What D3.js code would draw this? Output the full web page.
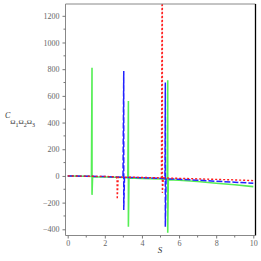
<!doctype html>
<html lang="en">
<head>
<meta charset="utf-8">
<title>C Omega plot</title>
<script src="https://cdnjs.cloudflare.com/ajax/libs/d3/7.8.5/d3.min.js"></script>
<style>
  body { margin: 0; background: #fff; }
  svg text { font-family: 'Liberation Serif', serif; }
</style>
</head>
<body>
<svg id="chart" width="261" height="261"></svg>
<script>
// tick values
const xTicks = [0, 2, 4, 6, 8, 10];
const yTicks = [-400, -200, 0, 200, 400, 600, 800, 1000, 1200];

// red dotted curve (S, C)
const redS = [0, 1, 2, 2.6, 2.66, 2.67, 2.72, 3.5, 4.5, 5.05, 5.1, 5.1, 5.15, 6, 7, 8, 9, 10];
const redC = [0, -2, -4, -7, -20, -175, -9, -10, -13, -15, 2000, -127, -15, -18, -22, -26, -30, -35];

// blue dashed curve
const blueS = [0, 1, 2, 2.98, 3.02, 3.02, 3.06, 4, 5, 5.24, 5.26, 5.26, 5.3, 6, 7, 8, 9, 10];
const blueC = [0, -2, -5, -10, 787, -255, -12, -13, -18, -20, 700, -380, -22, -25, -32, -40, -47, -55];

// green solid curve
const greenS = [0, 1, 1.28, 1.31, 1.31, 1.34, 2, 3, 3.24, 3.27, 3.27, 3.3, 4, 5, 5.36, 5.39, 5.39, 5.42, 6, 7, 8, 9, 10];
const greenC = [0, -3, -4, 811, -142, -6, -8, -12, -15, 562, -380, -15, -18, -23, -25, 717, -425, -28, -32, -42, -55, -66, -80];

const svg = d3.select("#chart");
const pLeft = 65.5, pRight = 255.5, pTop = 4, pBottom = 235.5;

const x = d3.scaleLinear().domain([0, 10]).range([67.7, 253.3]);
const y = d3.scaleLinear().domain([-400, 1200]).range([229.3, 15.8]);

svg.append("clipPath").attr("id", "clip")
  .append("rect").attr("x", pLeft).attr("y", pTop)
  .attr("width", pRight - pLeft).attr("height", pBottom - pTop);

const line = d3.line().x(d => x(d[0])).y(d => y(d[1]));
const series = [
  {s: greenS, c: greenC, color: "#55ee55", width: 1.6, dash: null},
  {s: blueS, c: blueC, color: "#2222ff", width: 1.5, dash: "6,2"},
  {s: redS, c: redC, color: "#ff1a1a", width: 1.4, dash: "2,2"}
];
svg.append("g").attr("clip-path", "url(#clip)")
  .selectAll("path").data(series).enter().append("path")
  .attr("d", d => line(d.s.map((v, i) => [v, d.c[i]])))
  .attr("fill", "none")
  .attr("stroke", d => d.color)
  .attr("stroke-width", d => d.width)
  .attr("stroke-dasharray", d => d.dash);

// frame: gray top, black right
svg.append("line").attr("x1", pLeft).attr("x2", pRight).attr("y1", pTop).attr("y2", pTop)
  .attr("stroke", "#888").attr("stroke-width", 1);
svg.append("line").attr("x1", pRight).attr("x2", pRight).attr("y1", pTop).attr("y2", pBottom)
  .attr("stroke", "#000").attr("stroke-width", 1.3);

// axes
const yAxis = svg.append("g").attr("transform", `translate(${pLeft},0)`)
  .call(d3.axisLeft(y).tickValues(yTicks).tickSize(3).tickPadding(3).tickFormat(d3.format("d")));
const xAxis = svg.append("g").attr("transform", `translate(0,${pBottom})`)
  .call(d3.axisBottom(x).tickValues(xTicks).tickSize(3).tickPadding(2).tickFormat(d3.format("d")));
[yAxis, xAxis].forEach(g => {
  g.select(".domain").attr("stroke", "#888");
  g.selectAll(".tick line").attr("stroke", "#777");
  g.selectAll(".tick text").attr("fill", "#666").style("font-size", "8px")
    .style("font-family", "'Liberation Serif', serif");
});
yAxis.select(".domain").attr("d", `M0,${pTop}V${pBottom}`);
xAxis.select(".domain").attr("d", `M${pLeft},0H${pRight}`);

// minor ticks
svg.append("g").selectAll("line").data(d3.range(-300, 1300, 200)).enter().append("line")
  .attr("x1", pLeft - 2).attr("x2", pLeft).attr("y1", d => y(d)).attr("y2", d => y(d))
  .attr("stroke", "#777");
svg.append("g").selectAll("line").data([1, 3, 5, 7, 9]).enter().append("line")
  .attr("x1", d => x(d)).attr("x2", d => x(d)).attr("y1", pBottom).attr("y2", pBottom + 2)
  .attr("stroke", "#777");

// axis labels
svg.append("text").attr("x", 160).attr("y", 253).attr("text-anchor", "middle")
  .attr("fill", "#333").style("font-size", "9px").style("font-style", "italic").text("S");
const yl = svg.append("text").attr("x", 5).attr("y", 118).attr("fill", "#333").style("font-size", "8px");
yl.append("tspan").style("font-style", "italic").text("C");
const subs = ["1", "2", "3"];
subs.forEach((n, i) => {
  yl.append("tspan").attr("dy", i === 0 ? 6 : -3).style("font-size", "7px").text("Ω");
  yl.append("tspan").attr("dy", 3).style("font-size", "6px").text(n);
});
</script>
</body>
</html>
